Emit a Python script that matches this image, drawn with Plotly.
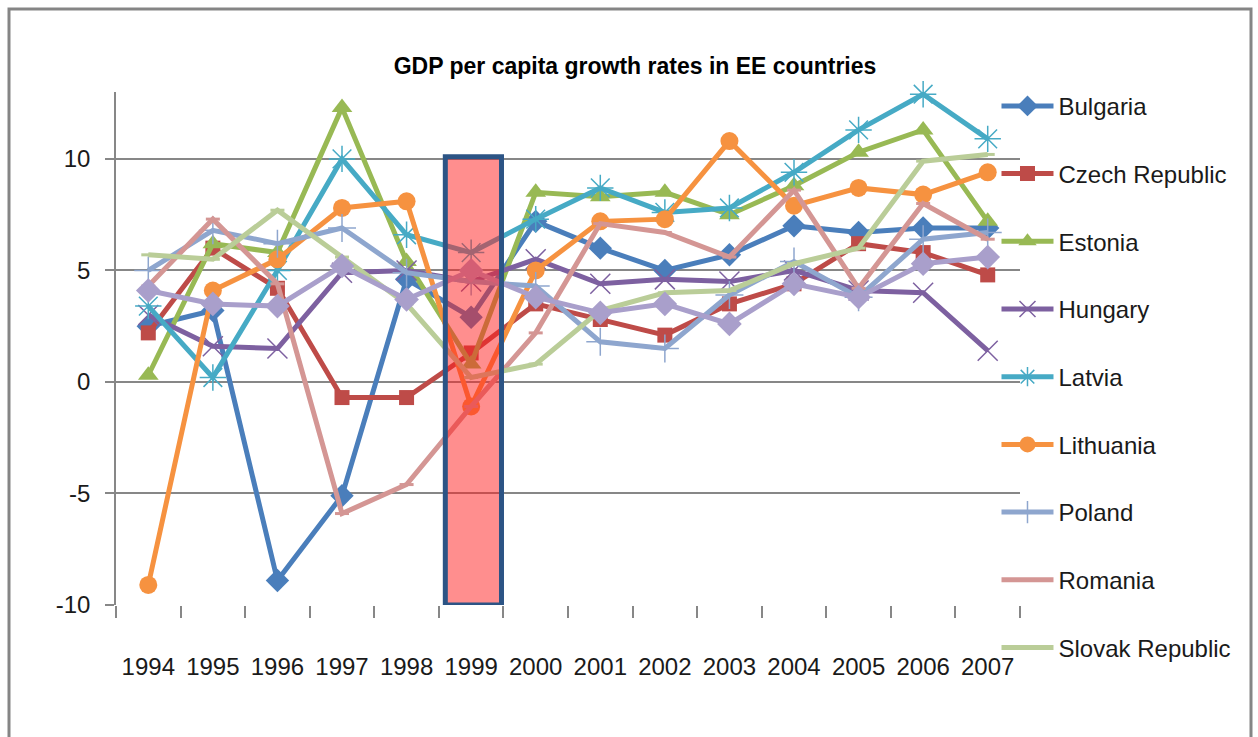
import plotly.graph_objects as go

years = [1994, 1995, 1996, 1997, 1998, 1999, 2000, 2001, 2002, 2003, 2004, 2005, 2006, 2007]

bulgaria = [2.5, 3.2, -8.9, -5.1, 4.6, 2.9, 7.2, 6.0, 5.0, 5.7, 7.0, 6.7, 6.9, 6.9]
czech = [2.2, 6.0, 4.2, -0.7, -0.7, 1.3, 3.5, 2.8, 2.1, 3.5, 4.4, 6.2, 5.8, 4.8]
estonia = [0.3, 6.2, 5.8, 12.3, 5.4, 0.8, 8.5, 8.3, 8.5, 7.5, 8.8, 10.3, 11.3, 7.2]
hungary = [3.0, 1.6, 1.5, 4.9, 5.0, 4.5, 5.5, 4.4, 4.6, 4.5, 5.0, 4.1, 4.0, 1.4]
latvia = [3.4, 0.2, 5.0, 10.0, 6.6, 5.8, 7.3, 8.7, 7.6, 7.8, 9.4, 11.3, 12.9, 10.9]
lithuania = [-9.1, 4.1, 5.5, 7.8, 8.1, -1.1, 5.0, 7.2, 7.3, 10.8, 7.9, 8.7, 8.4, 9.4]
poland = [5.0, 6.8, 6.2, 6.9, 4.9, 4.5, 4.3, 1.8, 1.5, 3.9, 5.4, 3.8, 6.4, 6.7]
romania = [4.3, 7.3, 4.4, -5.9, -4.6, -1.1, 2.2, 7.1, 6.7, 5.6, 8.6, 4.2, 8.0, 6.4]
slovak = [5.7, 5.5, 7.7, 5.6, 3.5, 0.2, 0.8, 3.2, 4.0, 4.1, 5.3, 6.0, 9.9, 10.2]
slovenia = [4.1, 3.5, 3.4, 5.2, 3.7, 5.0, 3.8, 3.1, 3.5, 2.6, 4.4, 3.8, 5.3, 5.6]

y_ticks = [-10, -5, 0, 5, 10]
y_tick_labels = ["-10", "-5", "0", "5", "10"]
highlight_year = 1999

title_text = "GDP per capita growth rates in EE countries"

series = [
    ("Bulgaria", bulgaria, "#4A7EBB", dict(symbol="diamond", size=18, color="#4A7EBB"), True),
    ("Czech Republic", czech, "#BE4B48", dict(symbol="square", size=15, color="#BE4B48"), True),
    ("Estonia", estonia, "#98B954", dict(symbol="triangle-up", size=18, color="#98B954"), True),
    ("Hungary", hungary, "#7D60A0", dict(symbol="x-thin-open", size=20, line=dict(width=1.5, color="#7D60A0")), True),
    ("Latvia", latvia, "#46AAC5", dict(symbol="asterisk-open", size=22, line=dict(width=1.5, color="#46AAC5")), True),
    ("Lithuania", lithuania, "#F69240", dict(symbol="circle", size=18, color="#F69240"), True),
    ("Poland", poland, "#8EA6CE", dict(symbol="cross-thin-open", size=20, line=dict(width=1.5, color="#8EA6CE")), True),
    ("Romania", romania, "#D49694", dict(symbol="line-ew-open", size=10, line=dict(width=3, color="#D49694")), True),
    ("Slovak Republic", slovak, "#BACD98", dict(symbol="line-ew-open", size=10, line=dict(width=3, color="#BACD98")), True),
    ("Slovenia", slovenia, "#A99FCB", dict(symbol="diamond", size=19, color="#A99FCB"), False),
]

FONT = "Liberation Sans, Arial, sans-serif"

fig = go.Figure()
for name, vals, col, mk, show in series:
    fig.add_trace(go.Scatter(
        x=years, y=vals, name=name, mode="lines+markers",
        line=dict(color=col, width=5),
        marker=mk, showlegend=show, legendgroup=name, cliponaxis=False,
    ))

fig.add_shape(type="rect", xref="x", yref="y",
              x0=highlight_year - 0.4, x1=highlight_year + 0.47,
              y0=y_ticks[0], y1=y_ticks[-1] + 0.1,
              fillcolor="rgba(255,30,30,0.5)",
              line=dict(color="#2C5485", width=5), layer="above")

# outer frame
fig.add_shape(type="rect", xref="paper", yref="paper",
              x0=(9 - 116) / 904, x1=(1251 - 116) / 904,
              y0=-0.5, y1=1 + (92 - 9) / 513,
              line=dict(color="#858585", width=3), fillcolor="rgba(0,0,0,0)")

fig.update_layout(
    width=1258, height=737,
    margin=dict(l=116, r=238, t=92, b=132),
    paper_bgcolor="white", plot_bgcolor="white",
    font=dict(family=FONT, size=24, color="#1a1a1a"),
    title=dict(text="<b>" + title_text + "</b>", x=635 / 1258, xanchor="center",
               y=1 - 66 / 737, yanchor="middle",
               font=dict(family=FONT, size=23, color="#000000")),
    legend=dict(x=0.974, xanchor="left", y=1.016, yanchor="top",
                font=dict(family=FONT, size=24, color="#1a1a1a"),
                tracegroupgap=33.5, itemwidth=52, bgcolor="rgba(0,0,0,0)",
                traceorder="grouped", maxheight=720),
    xaxis=dict(range=[years[0] - 0.5, years[-1] + 0.5], tickmode="array",
               tickvals=years, ticktext=[str(y) for y in years], tickangle=0,
               ticks="", showgrid=False, zeroline=False,
               showline=False, ticklabelstandoff=45,
               minor=dict(tickmode="array", tickvals=[y - 0.5 for y in years] + [years[-1] + 0.5],
                          ticks="outside", ticklen=12, tickcolor="#878787", tickwidth=1.5)),
    yaxis=dict(range=[y_ticks[0], 13], tickmode="array", tickvals=y_ticks,
               ticktext=y_tick_labels,
               ticks="outside", ticklen=9, tickcolor="#878787", tickwidth=1.5,
               showgrid=True, gridcolor="#878787", gridwidth=1.5,
               zeroline=False, showline=True, linecolor="#878787", linewidth=1.5,
               ticklabelstandoff=10),
)

fig.write_html("out.html", config={"displayModeBar": False},
               post_script="document.body.style.margin='0';document.body.style.overflow='hidden';")
